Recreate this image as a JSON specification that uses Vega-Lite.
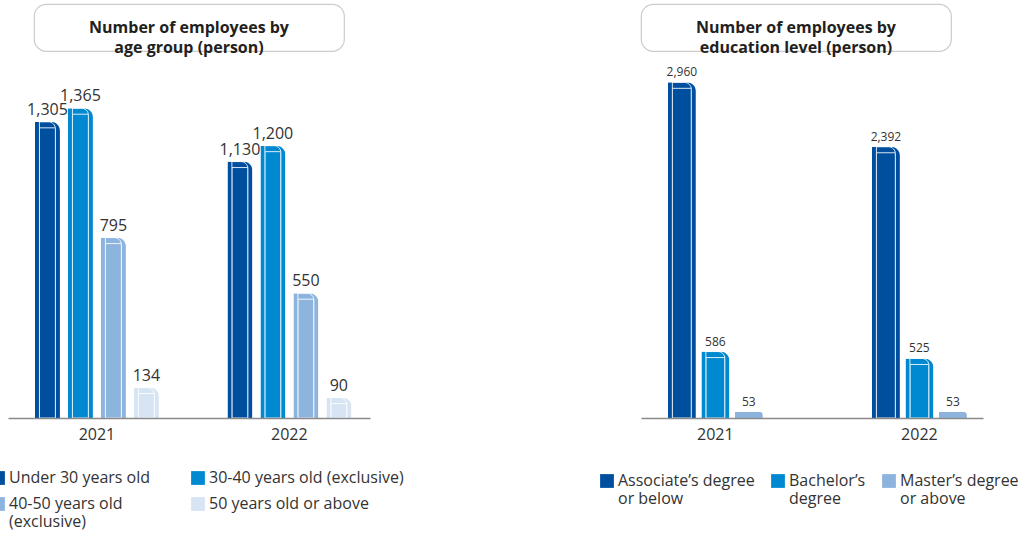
{
  "$schema": "https://vega.github.io/schema/vega-lite/v6.json",
  "padding": {"left": -10, "top": 3, "right": -232, "bottom": 0},
  "background": "white",
  "columns": 3,
  "bounds": "flush",
  "center": true,
  "align": "each",
  "spacing": {"row": 20, "column": 271},
  "resolve": {
    "scale": {"color": "independent", "x": "independent", "y": "independent", "xOffset": "independent"},
    "legend": {"color": "independent"},
    "axis": {"x": "independent", "y": "independent"}
  },
  "config": {
    "font": "Open Sans",
    "view": {"stroke": null},
    "axis": {"labelFont": "Open Sans", "titleFont": "Open Sans"},
    "legend": {"labelFont": "Open Sans"}
  },
  "datasets": {
    "age": [
      {"year": "2021", "group": "Under 30 years old", "value": 1305},
      {"year": "2021", "group": "30-40 years old (exclusive)", "value": 1365},
      {"year": "2021", "group": "40-50 years old (exclusive)", "value": 795},
      {"year": "2021", "group": "50 years old or above", "value": 134},
      {"year": "2022", "group": "Under 30 years old", "value": 1130},
      {"year": "2022", "group": "30-40 years old (exclusive)", "value": 1200},
      {"year": "2022", "group": "40-50 years old (exclusive)", "value": 550},
      {"year": "2022", "group": "50 years old or above", "value": 90}
    ],
    "edu": [
      {"year": "2021", "level": "Associate’s degree or below", "value": 2960},
      {"year": "2021", "level": "Bachelor’s degree", "value": 586},
      {"year": "2021", "level": "Master’s degree or above", "value": 53},
      {"year": "2022", "level": "Associate’s degree or below", "value": 2392},
      {"year": "2022", "level": "Bachelor’s degree", "value": 525},
      {"year": "2022", "level": "Master’s degree or above", "value": 53}
    ]
  },
  "concat": [
    {
      "width": 310,
      "height": 47,
      "view": {"fill": "white", "stroke": "#cccccc", "strokeWidth": 1.2, "cornerRadius": 12},
      "data": {"values": [{"t": "Number of employees by\nage group (person)"}]},
      "mark": {"type": "text", "fontWeight": "bold", "fontSize": 16, "color": "#231f20", "lineBreak": "\n", "lineHeight": 20},
      "encoding": {"text": {"field": "t", "type": "nominal"}}
    },
    {
      "width": 310,
      "height": 47,
      "view": {"fill": "white", "stroke": "#cccccc", "strokeWidth": 1.2, "cornerRadius": 12},
      "data": {"values": [{"t": "Number of employees by\neducation level (person)"}]},
      "mark": {"type": "text", "fontWeight": "bold", "fontSize": 16, "color": "#231f20", "lineBreak": "\n", "lineHeight": 20},
      "encoding": {"text": {"field": "t", "type": "nominal"}}
    },
    {
      "width": 1,
      "height": 1,
      "data": {"values": [{"a": ""}]},
      "mark": {"type": "text", "opacity": 0},
      "encoding": {"text": {"field": "a", "type": "nominal"}}
    },
    {
      "width": 362,
      "height": 347,
      "data": {"name": "age"},
      "encoding": {
        "x": {
          "field": "year", "type": "ordinal",
          "scale": {"paddingInner": 0.273, "paddingOuter": 0.077, "align": 0.64},
          "axis": {"title": null, "labelAngle": 0, "labelFontSize": 16, "labelColor": "#333333", "ticks": false, "domainColor": "#8a8a8a", "domainWidth": 1.5, "labelPadding": 8, "zindex": 1}
        },
        "xOffset": {
          "field": "group", "type": "nominal",
          "sort": ["Under 30 years old", "30-40 years old (exclusive)", "40-50 years old (exclusive)", "50 years old or above"],
          "scale": {"paddingInner": 0.242, "paddingOuter": 0.242}
        },
        "y": {"field": "value", "type": "quantitative", "scale": {"domain": [0, 1529], "nice": false}, "axis": null}
      },
      "layer": [
        {
          "mark": {"type": "bar", "cornerRadiusTopRight": 9},
          "encoding": {
            "color": {
              "field": "group", "type": "nominal",
              "scale": {
                "domain": ["Under 30 years old", "30-40 years old (exclusive)", "40-50 years old (exclusive)", "50 years old or above"],
                "range": ["#004f9f", "#0089d1", "#8cb4df", "#d6e4f4"]
              },
              "legend": {
                "orient": "none", "legendX": -18, "legendY": 399, "columns": 2, "direction": "horizontal", "title": null,
                "symbolType": "square", "symbolSize": 190, "symbolStrokeWidth": 0,
                "labelFontSize": 16, "labelColor": "#333333", "labelOffset": 3,
                "columnPadding": 39, "rowPadding": 10, "labelLimit": 300, "padding": 0,
                "labelExpr": "datum.label == '40-50 years old (exclusive)' ? ['40-50 years old', '(exclusive)'] : datum.label"
              }
            }
          }
        },
        {
          "transform": [{"filter": "datum.value > 60"}],
          "mark": {"type": "bar", "filled": false, "stroke": "white", "strokeWidth": 1, "strokeOpacity": 0.85, "width": 16, "xOffset": 4.5, "yOffset": 6, "cornerRadiusTopRight": 7}
        },
        {
          "mark": {"type": "text", "baseline": "bottom", "dy": -4, "fontSize": 16, "color": "#333333"},
          "encoding": {"text": {"field": "value", "type": "quantitative", "format": ","}}
        }
      ]
    },
    {
      "width": 342,
      "height": 347,
      "data": {"name": "edu"},
      "encoding": {
        "x": {
          "field": "year", "type": "ordinal",
          "scale": {"paddingInner": 0.412, "paddingOuter": 0.044, "align": 0.8},
          "axis": {"title": null, "labelAngle": 0, "labelFontSize": 16, "labelColor": "#333333", "ticks": false, "domainColor": "#8a8a8a", "domainWidth": 1.5, "labelPadding": 8, "zindex": 1}
        },
        "xOffset": {
          "field": "level", "type": "nominal",
          "sort": ["Associate’s degree or below", "Bachelor’s degree", "Master’s degree or above"],
          "scale": {"paddingInner": 0.164, "paddingOuter": 0.373}
        },
        "y": {"field": "value", "type": "quantitative", "scale": {"domain": [0, 3060], "nice": false}, "axis": null}
      },
      "layer": [
        {
          "mark": {"type": "bar", "cornerRadiusTopRight": 9},
          "encoding": {
            "color": {
              "field": "level", "type": "nominal",
              "scale": {
                "domain": ["Associate’s degree or below", "Bachelor’s degree", "Master’s degree or above"],
                "range": ["#004f9f", "#0089d1", "#8cb4df"]
              },
              "legend": {
                "orient": "none", "legendX": -42, "legendY": 402, "columns": 3, "direction": "horizontal", "title": null,
                "symbolType": "square", "symbolSize": 190, "symbolStrokeWidth": 0,
                "labelFontSize": 16, "labelColor": "#333333", "labelOffset": 3,
                "columnPadding": 15, "rowPadding": 10, "labelLimit": 300, "padding": 0,
                "labelExpr": "datum.label == 'Associate’s degree or below' ? ['Associate’s degree', 'or below'] : datum.label == 'Bachelor’s degree' ? ['Bachelor’s', 'degree'] : ['Master’s degree', 'or above']"
              }
            }
          }
        },
        {
          "transform": [{"filter": "datum.value > 100"}],
          "mark": {"type": "bar", "filled": false, "stroke": "white", "strokeWidth": 1, "strokeOpacity": 0.85, "width": 19, "xOffset": 4.5, "yOffset": 6, "cornerRadiusTopRight": 7}
        },
        {
          "mark": {"type": "text", "baseline": "bottom", "dy": -3, "fontSize": 12, "color": "#333333"},
          "encoding": {"text": {"field": "value", "type": "quantitative", "format": ","}}
        }
      ]
    }
  ]
}
